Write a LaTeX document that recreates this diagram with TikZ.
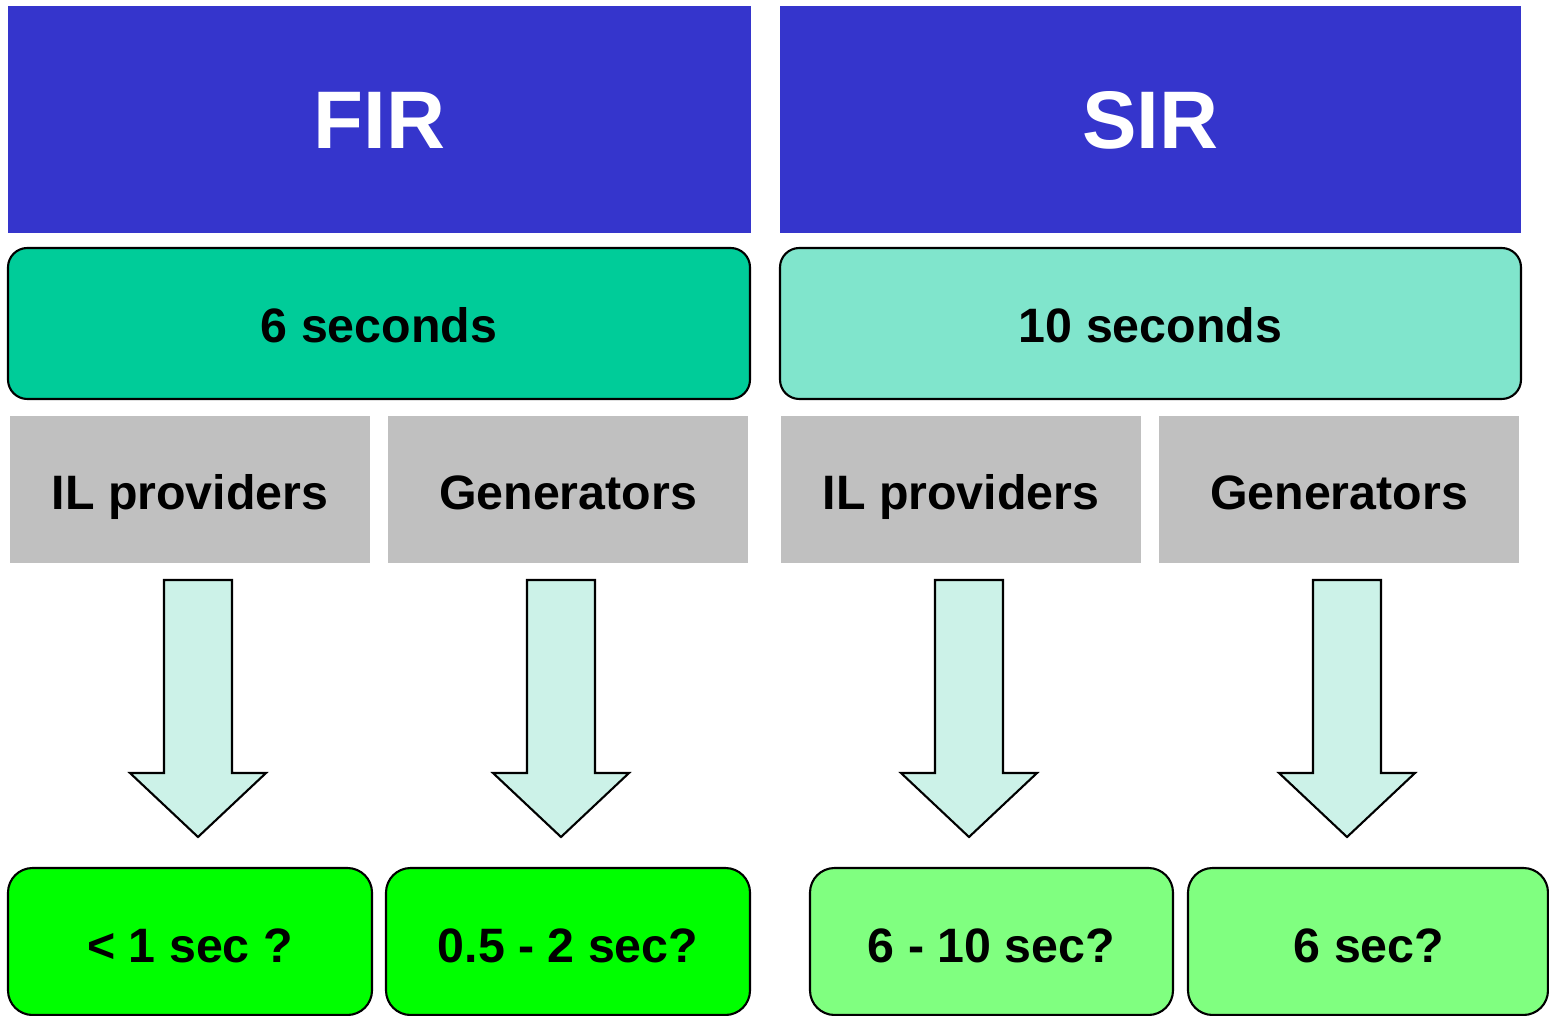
\documentclass[tikz,border=0pt]{standalone}
\usepackage{fontspec}
\setmainfont{Liberation Sans}
\definecolor{hdrblue}{RGB}{53,53,204}
\definecolor{tealA}{RGB}{0,204,153}
\definecolor{tealB}{RGB}{128,229,204}
\definecolor{grayC}{RGB}{192,192,192}
\definecolor{arrowF}{RGB}{204,242,232}
\definecolor{greenA}{RGB}{0,255,0}
\definecolor{greenB}{RGB}{128,255,128}
\tikzset{
  hdr/.style={fill=hdrblue, draw=none, text=white, font=\fontsize{46.5}{54}\selectfont\bfseries, inner sep=0pt, text height=33.3pt, text depth=0pt},
  secbox/.style={draw=black, line width=1.2pt, rounded corners=11pt, inner sep=0pt},
  graybox/.style={fill=grayC, draw=none, inner sep=0pt},
  resbox/.style={draw=black, line width=1.2pt, rounded corners=14pt, inner sep=0pt},
  restext/.style={font=\fontsize{27.5}{32}\selectfont\bfseries, inner sep=0pt, text height=19.7pt, text depth=0pt},
  blockarrow/.style={fill=arrowF, draw=black, line width=1.2pt, line join=miter}
}
\newcommand{\blkarr}[2]{%
  \draw[blockarrow] ({#1-34},580) -- ({#1+34},580) -- ({#1+34},773) -- ({#1+68},773)
    -- (#1,837) -- ({#1-68},773) -- ({#1-34},773) -- cycle;
  \coordinate (#2) at (#1,837);}
\begin{document}
\begin{tikzpicture}[x=0.02cm,y=-0.02cm]
\useasboundingbox (0,0) rectangle (1549,1016);
\clip (0,0) rectangle (1549,1016);
% headers
\node[hdr, minimum width=743*0.02cm, minimum height=227*0.02cm] (fir) at (379.5,119.5) {FIR};
\node[hdr, minimum width=741*0.02cm, minimum height=227*0.02cm] (sir) at (1150.5,119.5) {SIR};
% seconds
\node[secbox, fill=tealA, minimum width=742*0.02cm, minimum height=151*0.02cm] (six) at (379,323.5) {};
\node[secbox, fill=tealB, minimum width=741*0.02cm, minimum height=151*0.02cm] (ten) at (1150.5,323.5) {};
\node[restext] (sixt) at (379,325) {6 seconds};
\node[restext] (tent) at (1150.5,325) {10 seconds};
% gray boxes
\node[graybox, minimum width=360*0.02cm, minimum height=147*0.02cm] (il1) at (190,489.5) {};
\node[graybox, minimum width=360*0.02cm, minimum height=147*0.02cm] (gen1) at (568,489.5) {};
\node[graybox, minimum width=360*0.02cm, minimum height=147*0.02cm] (il2) at (961,489.5) {};
\node[graybox, minimum width=360*0.02cm, minimum height=147*0.02cm] (gen2) at (1339,489.5) {};
\node[restext] (il1t) at (190,492) {IL providers};
\node[restext] (gen1t) at (568,492) {Generators};
\node[restext] (il2t) at (961,492) {IL providers};
\node[restext] (gen2t) at (1339,492) {Generators};
% arrows
\blkarr{198}{a1}
\blkarr{561}{a2}
\blkarr{969}{a3}
\blkarr{1347}{a4}
% result boxes
\node[resbox, fill=greenA, minimum width=364*0.02cm, minimum height=147*0.02cm] (r1) at (190,941.5) {};
\node[resbox, fill=greenA, minimum width=364*0.02cm, minimum height=147*0.02cm] (r2) at (568,941.5) {};
\node[resbox, fill=greenB, minimum width=363*0.02cm, minimum height=147*0.02cm] (r3) at (991.5,941.5) {};
\node[resbox, fill=greenB, minimum width=360*0.02cm, minimum height=147*0.02cm] (r4) at (1368,941.5) {};
\node[restext] (t1) at (190,945) {< 1 sec ?};
\node[restext] (t2) at (568,945) {0.5 - 2 sec?};
\node[restext] (t3) at (991.5,945) {6 - 10 sec?};
\node[restext] (t4) at (1369,945) {6 sec?};
\end{tikzpicture}
\end{document}
